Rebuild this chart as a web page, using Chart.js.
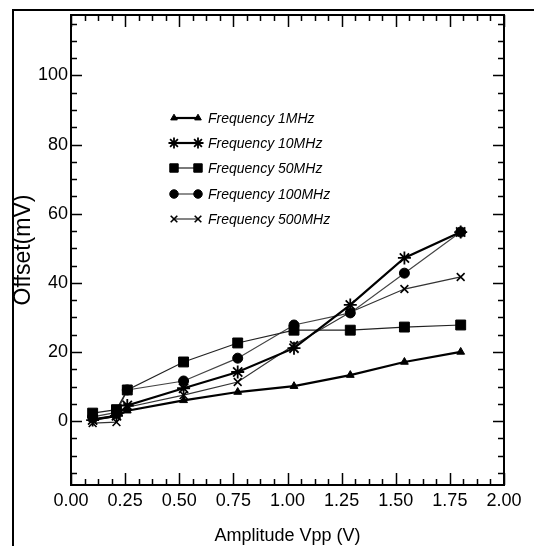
<!DOCTYPE html>
<html>
<head>
<meta charset="utf-8">
<script src="https://cdn.jsdelivr.net/npm/chart.js@4/dist/chart.umd.min.js"></script>
<style>
  html, body { margin: 0; padding: 0; background: #fff; }
  #wrap { position: relative; width: 534px; height: 546px; }
</style>
</head>
<body>
<div id="wrap"><canvas id="offsetChart" width="534" height="546"></canvas></div>
<script>
// amplitude values (V)
var amplitude = [0.1, 0.21, 0.26, 0.52, 0.77, 1.03, 1.29, 1.54, 1.8];

// offset in mV for each frequency
var offset1MHz = [0.5, 1.5, 3, 6, 8.4, 10.1, 13.3, 17.1, 20.0];
var offset10MHz = [0.3, 1.5, 4.5, 9.5, 14.2, 21.1, 33.6, 47.2, 54.7];
var offset50MHz = [2.3, 3.3, 9, 17.1, 22.6, 26.3, 26.3, 27.2, 27.8];
var offset100MHz = [1.2, 2.5, 9, 11.6, 18.2, 27.8, 31.3, 42.8, 54.7];
var offset500MHz = [-0.6, -0.3, 4, 7.5, 11.3, 22, 31.5, 38.2, 41.7];

var seriesNames = ["Frequency 1MHz", "Frequency 10MHz", "Frequency 50MHz", "Frequency 100MHz", "Frequency 500MHz"];

var xTickLabels = ["0.00", "0.25", "0.50", "0.75", "1.00", "1.25", "1.50", "1.75", "2.00"];
var yTickLabels = ["0", "20", "40", "60", "80", "100"];

var SANS = '"Liberation Sans", Arial, sans-serif';

function toPoints(ys) {
  var pts = [];
  for (var i = 0; i < ys.length; i++) {
    pts.push({ x: amplitude[i], y: ys[i] });
  }
  return pts;
}

function makeSet(name, ys, style, radius, lineW, markW, lineColor) {
  return {
    label: name,
    data: toPoints(ys),
    borderColor: lineColor,
    backgroundColor: "#000",
    borderWidth: lineW,
    pointStyle: style,
    pointRadius: radius,
    pointHoverRadius: radius,
    pointBorderWidth: markW,
    pointBackgroundColor: "#000",
    pointBorderColor: "#000",
    tension: 0,
    fill: false
  };
}

var datasets = [
  makeSet(seriesNames[0], offset1MHz, "triangle", 4.5, 2.2, 1, "#000"),
  makeSet(seriesNames[1], offset10MHz, "star", 6.5, 2.2, 1.8, "#000"),
  makeSet(seriesNames[2], offset50MHz, "rect", 7, 1.2, 1, "#222"),
  makeSet(seriesNames[3], offset100MHz, "circle", 5, 1.2, 1, "#444"),
  makeSet(seriesNames[4], offset500MHz, "crossRot", 5.5, 1.2, 1.6, "#333")
];

// ticks pointing into the plot on all four sides, plus the box, outer frame and legend
var framePlugin = {
  id: "framePlugin",
  afterDraw: function (chart) {
    var ctx = chart.ctx;
    var a = chart.chartArea;
    var xs = chart.scales.x;
    var ys = chart.scales.y;
    ctx.save();
    ctx.strokeStyle = "#000";

    // outer frame (top and left only are visible)
    ctx.lineWidth = 2;
    ctx.beginPath();
    ctx.moveTo(13, 546);
    ctx.lineTo(13, 10);
    ctx.lineTo(534, 10);
    ctx.stroke();

    // plot box
    ctx.lineWidth = 2;
    ctx.strokeRect(a.left, a.top, a.right - a.left, a.bottom - a.top);

    ctx.lineWidth = 1.5;
    ctx.beginPath();
    for (var k = 0; k <= 32; k++) {
      var v = k * 0.0625;
      var px = Math.round(xs.getPixelForValue(v)) + 0.5;
      var len = (k % 4 === 0) ? 12 : 6;
      ctx.moveTo(px, a.bottom);
      ctx.lineTo(px, a.bottom - len);
      ctx.moveTo(px, a.top);
      ctx.lineTo(px, a.top + len);
    }
    for (var t = -15; t <= 115; t += 5) {
      var py = Math.round(ys.getPixelForValue(t)) + 0.5;
      var l2 = (t % 20 === 0) ? 11 : 6;
      ctx.moveTo(a.left, py);
      ctx.lineTo(a.left + l2, py);
      ctx.moveTo(a.right, py);
      ctx.lineTo(a.right - l2, py);
    }
    ctx.stroke();

    // legend inside the plot
    var rowY = [118, 143, 168, 194, 219];
    ctx.font = "italic 14px " + SANS;
    ctx.textBaseline = "middle";
    ctx.textAlign = "left";
    for (var i = 0; i < chart.data.datasets.length; i++) {
      var ds = chart.data.datasets[i];
      var y = rowY[i];
      ctx.strokeStyle = ds.borderColor;
      ctx.lineWidth = ds.borderWidth;
      ctx.beginPath();
      ctx.moveTo(174, y);
      ctx.lineTo(198, y);
      ctx.stroke();
      var opts = { pointStyle: ds.pointStyle, radius: ds.pointRadius * 0.85, borderWidth: ds.pointBorderWidth, rotation: 0 };
      ctx.strokeStyle = "#000";
      ctx.fillStyle = "#000";
      ctx.lineWidth = ds.pointBorderWidth;
      Chart.helpers.drawPoint(ctx, opts, 174, y);
      Chart.helpers.drawPoint(ctx, opts, 198, y);
      ctx.fillStyle = "#000";
      ctx.fillText(ds.label, 208, y + 1);
    }
    ctx.restore();
  }
};

Chart.defaults.color = "#000";

var ctx = document.getElementById("offsetChart").getContext("2d");
var offsetChart = new Chart(ctx, {
  type: "line",
  data: { datasets: datasets },
  options: {
    responsive: false,
    animation: false,
    layout: { padding: { left: 0, top: 15, right: 30, bottom: 0 } },
    plugins: {
      legend: { display: false },
      tooltip: { enabled: false }
    },
    scales: {
      x: {
        type: "linear",
        min: 0,
        max: 2,
        grid: { display: false, drawTicks: false },
        border: { display: false },
        afterBuildTicks: function (s) {
          s.ticks = xTickLabels.map(function (lab) { return { value: parseFloat(lab) }; });
        },
        afterFit: function (s) { s.height = 61; },
        ticks: {
          padding: 5,
          maxRotation: 0,
          autoSkip: false,
          font: { family: SANS, size: 18 },
          callback: function (v) { return v.toFixed(2); }
        },
        title: {
          display: true,
          text: "Amplitude Vpp (V)",
          font: { family: SANS, size: 18, lineHeight: 1 },
          padding: { top: 0, bottom: 1 }
        }
      },
      y: {
        type: "linear",
        min: -18.5,
        max: 117.5,
        grid: { display: false, drawTicks: false },
        border: { display: false },
        afterBuildTicks: function (s) {
          s.ticks = yTickLabels.map(function (lab) { return { value: parseFloat(lab) }; });
        },
        afterFit: function (s) { s.width = 71; },
        ticks: {
          padding: 3,
          autoSkip: false,
          font: { family: SANS, size: 18 },
          callback: function (v) { return String(v); }
        },
        title: {
          display: true,
          text: "Offset(mV)",
          font: { family: SANS, size: 23 },
          padding: { top: 10, bottom: 0 }
        }
      }
    }
  },
  plugins: [framePlugin]
});
</script>
</body>
</html>
